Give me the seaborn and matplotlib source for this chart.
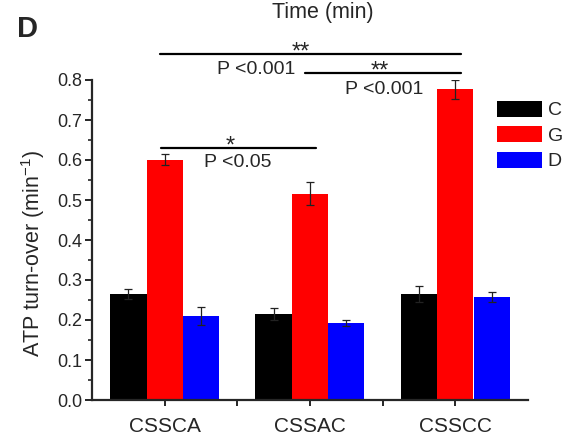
import numpy as np
import pandas as pd
import matplotlib
matplotlib.use("Agg")
import matplotlib.pyplot as plt
from matplotlib.ticker import MultipleLocator, FixedLocator
import seaborn as sns

# ---- data ----
categories = ["CSSCA", "CSSAC", "CSSCC"]
series = ["C", "G", "D"]
values_C = [0.265, 0.215, 0.264]
values_G = [0.601, 0.516, 0.777]
values_D = [0.210, 0.192, 0.258]
err_C = [0.012, 0.015, 0.020]
err_G = [0.013, 0.028, 0.024]
err_D = [0.022, 0.007, 0.013]
colors = ["#000000", "#ff0000", "#0000ff"]
yticks = [0.0, 0.1, 0.2, 0.3, 0.4, 0.5, 0.6, 0.7, 0.8]

df = pd.DataFrame({
    "cat": categories * 3,
    "series": [s for s in series for _ in categories],
    "val": values_C + values_G + values_D,
    "err": err_C + err_G + err_D,
})

sns.set_style("ticks")
plt.rcParams["font.family"] = ["Liberation Sans", "DejaVu Sans"]
plt.rcParams["mathtext.fontset"] = "custom"
plt.rcParams["mathtext.rm"] = "Liberation Sans"
plt.rcParams["mathtext.it"] = "Liberation Sans:italic"

fig = plt.figure(figsize=(5.72, 4.40), dpi=100)
ax = fig.add_axes([92 / 572, 40 / 440, 436 / 572, 320 / 440])

sns.barplot(data=df, x="cat", y="val", hue="series", order=categories,
            hue_order=series, palette=colors, width=0.75, errorbar=None,
            saturation=1, linewidth=0, ax=ax)

# error bars from bar patches
for cont, s in zip(ax.containers, series):
    sub = df[df["series"] == s].set_index("cat").loc[categories]
    xs = [p.get_x() + p.get_width() / 2 for p in cont.patches]
    hs = [p.get_height() for p in cont.patches]
    ax.errorbar(xs, hs, yerr=sub["err"].values, fmt="none", ecolor="#222222",
                elinewidth=0.9, capsize=2.6, capthick=0.9, zorder=5)

ax.set_xlim(-0.5, 2.5)
ax.set_ylim(0, 0.8)
ax.set_yticks(yticks)
ax.set_yticklabels([f"{t:.1f}" for t in yticks])
ax.yaxis.set_minor_locator(MultipleLocator(0.05))
ax.xaxis.set_minor_locator(FixedLocator([0.5, 1.5]))
ax.set_xlabel("")
ax.set_ylabel("")
for sp in ["top", "right"]:
    ax.spines[sp].set_visible(False)
for sp in ["left", "bottom"]:
    ax.spines[sp].set_linewidth(1.6)
ax.tick_params(axis="y", which="major", length=5, width=1.4, labelsize=13, pad=2, direction="out")
ax.tick_params(axis="y", which="minor", length=3, width=1.2, direction="out")
ax.tick_params(axis="x", which="major", length=4, width=1.4, labelsize=15, pad=8, direction="out")
ax.tick_params(axis="x", which="minor", length=4, width=1.4, direction="out")

# legend
handles, labels = ax.get_legend_handles_labels()
ax.legend(handles, labels, loc="upper left", bbox_to_anchor=(0.929, 0.935),
          frameon=False, fontsize=14, handlelength=2.3, handleheight=0.88,
          handletextpad=0.3, labelspacing=0.35, borderpad=0, borderaxespad=0)

# significance annotations
lw = 1.6
ax.plot([-0.03, 2.04], [0.865, 0.865], color="black", lw=lw, clip_on=False)
ax.text(0.94, 0.8535, "**", ha="center", va="baseline", fontsize=17)
ax.text(0.631, 0.815, "P <0.001", ha="center", va="baseline", fontsize=14)
ax.plot([0.966, 2.04], [0.817, 0.817], color="black", lw=lw, clip_on=False)
ax.text(1.483, 0.806, "**", ha="center", va="baseline", fontsize=17)
ax.text(1.51, 0.765, "P <0.001", ha="center", va="baseline", fontsize=14)
ax.plot([-0.023, 1.04], [0.63, 0.63], color="black", lw=lw, clip_on=False)
ax.text(0.448, 0.6185, "*", ha="center", va="baseline", fontsize=17)
ax.text(0.503, 0.5825, "P <0.05", ha="center", va="baseline", fontsize=14)

# labels
fig.text(323 / 572, (440 - 18.3) / 440, "Time (min)", ha="center", va="baseline", fontsize=15.5)
fig.text(17 / 572, (440 - 37) / 440, "D", ha="left", va="baseline", fontsize=21, fontweight="bold")
fig.text(33 / 572, (440 - 253) / 440, "ATP turn-over (min$^{-1}$)", rotation=90,
         ha="center", va="center", fontsize=15.5)

fig.savefig("out.png", dpi=100)
